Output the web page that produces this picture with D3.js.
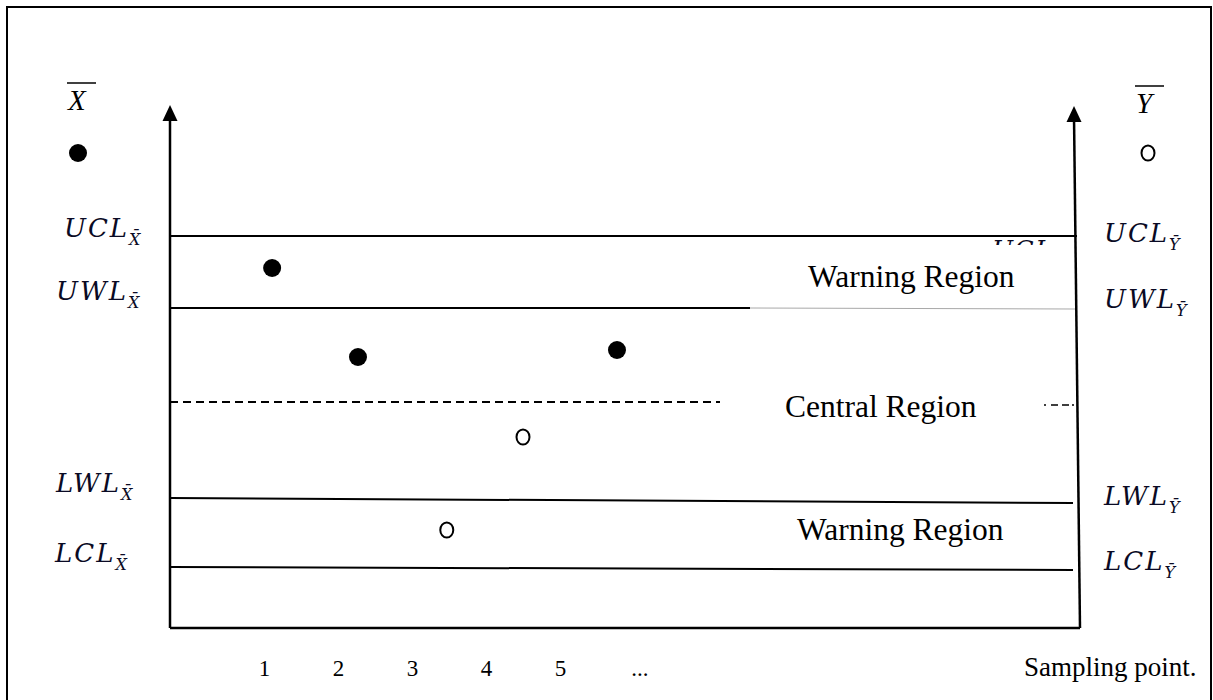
<!DOCTYPE html>
<html>
<head>
<meta charset="utf-8">
<script src="https://cdn.jsdelivr.net/npm/d3@7"></script>
<style>
  html, body { margin: 0; padding: 0; background: #fff; }
  svg { display: block; }
</style>
</head>
<body>
<svg id="chart" width="1213" height="700"></svg>
<script>
// ---------------- data ----------------
const sampleTicks = [1, 2, 3, 4, 5];
const sampleTickLabels = ["1", "2", "3", "4", "5"];
const ellipsisPos = 6.08;            // "..." after the last numbered sample
const ellipsisLabel = "...";
const xAxisTitle = "Sampling point.";

// control / warning limits (value at left end, value at right end)
const limitNames   = ["UCL", "UWL", "LWL", "LCL"];
const limitLeft    = [392, 320, 130, 61];
const limitRight   = [392, 319, 125, 58];
const centralLine  = 226;

// sample means of X (filled) and Y (open)
const xbarSamples = [1.11, 2.27, 5.77];
const xbarValues  = [360, 271, 278];
const ybarSamples = [4.5, 3.47];
const ybarValues  = [191, 98];

const regionLabels = ["Warning Region", "Central Region", "Warning Region"];
const regionValues = [341, 211, 88];

// ---------------- layout ----------------
const svg = d3.select("#chart");
const W = 1213, H = 700;
const pLeft = 170, pRightTop = 1074, pRightBot = 1080;
const pBottom = 628, pTop = 106;

const x = d3.scaleLinear().domain([1, 5]).range([264, 560]);
const y = d3.scaleLinear().domain([0, pBottom - pTop]).range([pBottom, pTop]);
const yMax = pBottom - pTop;

const ink = "#000";
const mathInk = "#0a0a24";

// page border (top, left, right)
svg.append("path")
  .attr("d", `M7,${H} L7,7 L1211,7 L1211,${H}`)
  .attr("fill", "none").attr("stroke", ink).attr("stroke-width", 2);

function arrowHead(cx, tipY) {
  svg.append("path")
    .attr("d", `M${cx},${tipY} L${cx - 7.5},${tipY + 16} L${cx + 7.5},${tipY + 16} Z`)
    .attr("fill", ink);
}

// axes
svg.append("line").attr("x1", pLeft).attr("y1", y(yMax) + 10)
  .attr("x2", pLeft).attr("y2", pBottom)
  .attr("stroke", ink).attr("stroke-width", 2.5);
arrowHead(pLeft, y(yMax) - 1);

svg.append("line").attr("x1", pRightTop).attr("y1", y(yMax) + 10)
  .attr("x2", pRightBot).attr("y2", pBottom)
  .attr("stroke", ink).attr("stroke-width", 2.5);
arrowHead(pRightTop, y(yMax));

svg.append("line").attr("x1", pLeft).attr("y1", pBottom)
  .attr("x2", pRightBot).attr("y2", pBottom)
  .attr("stroke", ink).attr("stroke-width", 2.5);

// limit lines
const ucl = 0, uwl = 1, lwl = 2, lcl = 3;
svg.append("line").attr("x1", pLeft).attr("x2", 1077)
  .attr("y1", y(limitLeft[ucl])).attr("y2", y(limitRight[ucl]))
  .attr("stroke", ink).attr("stroke-width", 2);
// UWL: dark on the left, light grey on the right
svg.append("line").attr("x1", pLeft).attr("x2", 750)
  .attr("y1", y(limitLeft[uwl])).attr("y2", y(limitLeft[uwl]))
  .attr("stroke", ink).attr("stroke-width", 2);
svg.append("line").attr("x1", 750).attr("x2", 1075)
  .attr("y1", y(limitLeft[uwl])).attr("y2", y(limitRight[uwl]))
  .attr("stroke", "#a8a8a8").attr("stroke-width", 1);
svg.append("line").attr("x1", pLeft).attr("x2", 1073)
  .attr("y1", y(limitLeft[lwl])).attr("y2", y(limitRight[lwl]))
  .attr("stroke", ink).attr("stroke-width", 2);
svg.append("line").attr("x1", pLeft).attr("x2", 1073)
  .attr("y1", y(limitLeft[lcl])).attr("y2", y(limitRight[lcl]))
  .attr("stroke", ink).attr("stroke-width", 2);

// central line (dashed, interrupted by label)
svg.append("line").attr("x1", pLeft).attr("x2", 720)
  .attr("y1", y(centralLine)).attr("y2", y(centralLine))
  .attr("stroke", ink).attr("stroke-width", 2).attr("stroke-dasharray", "8,5");
svg.append("line").attr("x1", 1044).attr("x2", 1077)
  .attr("y1", y(centralLine) + 3).attr("y2", y(centralLine) + 3)
  .attr("stroke", ink).attr("stroke-width", 1.6).attr("stroke-dasharray", "2,5,7,4,7,3");

// limit labels
function limitLabel(xp, yp, name, sub) {
  const t = svg.append("text").attr("x", xp).attr("y", yp)
    .style("font-family", "'DejaVu Serif'").style("font-style", "italic")
    .style("font-size", "26px").style("letter-spacing", "2px").style("fill", mathInk);
  t.append("tspan").text(name);
  t.append("tspan").attr("dy", 8).style("font-size", "16px").style("letter-spacing", "0px")
    .text(sub + "\u0304");
}
const leftX   = [64, 56, 56, 55];
const leftDy  = [1, -8, -6, -5];
const rightDy = [6, -1, 2, 0];
limitNames.forEach((n, i) => {
  limitLabel(leftX[i], y(limitLeft[i]) + leftDy[i], n, "X");
  limitLabel(1104, y(limitRight[i]) + rightDy[i], n, "Y");
});

// clipped fragment of a stray "UCL" under the UCL line
svg.append("clipPath").attr("id", "frag")
  .append("rect").attr("x", 985).attr("y", y(limitLeft[ucl]) + 2).attr("width", 70).attr("height", 7);
svg.append("text").attr("x", 992).attr("y", y(limitLeft[ucl]) + 22)
  .attr("clip-path", "url(#frag)")
  .style("font-family", "'DejaVu Serif'").style("font-style", "italic")
  .style("font-size", "25px").style("letter-spacing", "1.5px").style("fill", mathInk)
  .text("UCL");

// region labels
svg.selectAll("text.region").data(regionLabels).enter().append("text")
  .attr("class", "region")
  .attr("x", (d, i) => [808, 785, 797][i])
  .attr("y", (d, i) => y(regionValues[i]))
  .style("font-family", "'Liberation Serif'").style("font-size", "31.5px").style("fill", ink)
  .text(d => d);

// series titles
function barLabel(xp, yp, letter) {
  svg.append("text").attr("x", xp).attr("y", yp)
    .style("font-family", "'Liberation Serif'").style("font-style", "italic")
    .style("font-size", "29px").style("fill", ink).text(letter);
  svg.append("line").attr("x1", xp - 1).attr("x2", xp + 28)
    .attr("y1", yp - 27).attr("y2", yp - 27)
    .attr("stroke", ink).attr("stroke-width", 1.5);
}
barLabel(68, 110, "X");
barLabel(1136, 113, "Y");

// legend markers
svg.append("circle").attr("cx", 78).attr("cy", 153).attr("r", 9).attr("fill", ink);
svg.append("ellipse").attr("cx", 1148).attr("cy", 153).attr("rx", 6.5).attr("ry", 7.5)
  .attr("fill", "#fff").attr("stroke", ink).attr("stroke-width", 2);

// data points
svg.selectAll("circle.xbar").data(xbarValues).enter().append("circle")
  .attr("class", "xbar")
  .attr("cx", (d, i) => x(xbarSamples[i])).attr("cy", d => y(d))
  .attr("r", 9).attr("fill", ink);
svg.selectAll("ellipse.ybar").data(ybarValues).enter().append("ellipse")
  .attr("class", "ybar")
  .attr("cx", (d, i) => x(ybarSamples[i])).attr("cy", d => y(d))
  .attr("rx", 6.5).attr("ry", 7.5)
  .attr("fill", "#fff").attr("stroke", ink).attr("stroke-width", 2);

// x tick labels
const xAxis = d3.axisBottom(x).tickValues(sampleTicks)
  .tickFormat((d, i) => sampleTickLabels[i]).tickSize(0).tickPadding(0);
const gx = svg.append("g").attr("transform", `translate(0, 676)`).call(xAxis);
gx.select(".domain").remove();
gx.selectAll("text").attr("dy", null).attr("y", 0)
  .style("font-family", "'Liberation Serif'").style("font-size", "23px").style("fill", ink);
svg.append("text").attr("x", x(ellipsisPos)).attr("y", 676).attr("text-anchor", "middle")
  .style("font-family", "'Liberation Serif'").style("font-size", "23px").style("fill", ink)
  .text(ellipsisLabel);
svg.append("text").attr("x", 1024).attr("y", 676)
  .style("font-family", "'Liberation Serif'").style("font-size", "27px").style("fill", ink)
  .text(xAxisTitle);
</script>
</body>
</html>
